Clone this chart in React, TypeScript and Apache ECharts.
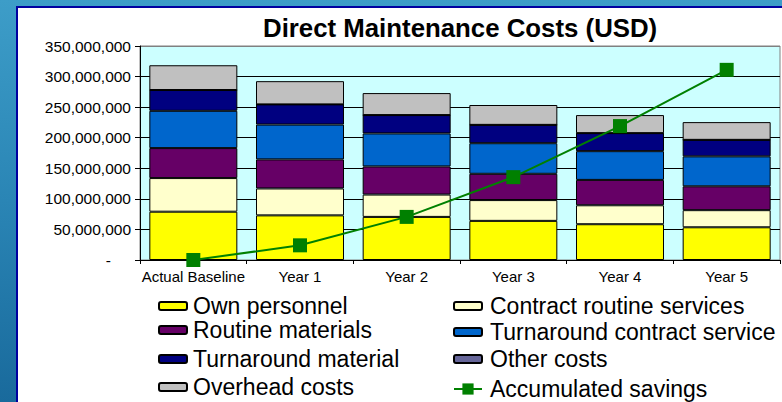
import React, { useEffect, useRef } from "react";
import * as echarts from "echarts";

const categories = ["Actual Baseline", "Year 1", "Year 2", "Year 3", "Year 4", "Year 5"];
const ownPersonnel = [79e6, 73e6, 70.5e6, 64e6, 58.5e6, 53.5e6];
const contractRoutine = [55e6, 44e6, 36.5e6, 34e6, 31e6, 28e6];
const routineMaterials = [49e6, 47.5e6, 46e6, 43e6, 41.5e6, 39e6];
const turnaroundContract = [61e6, 57e6, 54e6, 50e6, 47e6, 49e6];
const turnaroundMaterial = [34e6, 33e6, 30e6, 30e6, 29.5e6, 27e6];
const otherCosts = [0, 0, 0, 0, 0, 0];
const overheadCosts = [40.5e6, 38e6, 36e6, 32.5e6, 29.5e6, 29e6];
const accumulatedSavings = [0, 24e6, 70.5e6, 135.5e6, 219e6, 311e6];

const yMin = 0;
const yMax = 350e6;
const yStep = 50e6;

const FONT = "'Liberation Sans', Arial, Helvetica, sans-serif";

const barSeries = [
  { name: "Own personnel", data: ownPersonnel, color: "#ffff00" },
  { name: "Contract routine services", data: contractRoutine, color: "#ffffcc" },
  { name: "Routine materials", data: routineMaterials, color: "#660066" },
  { name: "Turnaround contract service", data: turnaroundContract, color: "#0066cc" },
  { name: "Turnaround material", data: turnaroundMaterial, color: "#000080" },
  { name: "Other costs", data: otherCosts, color: "#666699" },
  { name: "Overhead costs", data: overheadCosts, color: "#c0c0c0" },
];

const legendLayout = [
  { name: "Own personnel", left: 158, cy: 306, pad: 1 },
  { name: "Contract routine services", left: 453, cy: 306, pad: 3 },
  { name: "Routine materials", left: 158, cy: 330, pad: 1 },
  { name: "Turnaround contract service", left: 453, cy: 332, pad: 3 },
  { name: "Turnaround material", left: 158, cy: 359, pad: 1 },
  { name: "Other costs", left: 453, cy: 359, pad: 3 },
  { name: "Overhead costs", left: 158, cy: 387, pad: 1 },
  { name: "Accumulated savings", left: 453, cy: 389, pad: 3 },
];

export default function App() {
  const ref = useRef<HTMLDivElement>(null);

  useEffect(() => {
    if (!ref.current) return;
    const chart = echarts.init(ref.current, null, { renderer: "svg" });
    const nLines = Math.round((yMax - yMin) / yStep) + 1;
    const splitColors = Array.from({ length: nLines }, (_, i) => (i === nLines - 1 ? "#808080" : "#000000"));

    chart.setOption({
      animation: false,
      backgroundColor: "transparent",
      textStyle: { fontFamily: FONT },
      title: {
        text: "Direct Maintenance Costs (USD)",
        left: 263,
        top: 15,
        padding: 0,
        textStyle: { fontFamily: FONT, fontSize: 25.8, fontWeight: "bold", color: "#000" },
      },
      legend: legendLayout.map((l) => ({
        data: [l.name],
        left: l.left,
        top: l.cy - 12,
        padding: 0,
        orient: "vertical",
        itemWidth: 28,
        itemHeight: l.name === "Accumulated savings" ? 14 : 8,
        selectedMode: false,
        textStyle: {
          fontFamily: FONT,
          fontSize: 23,
          color: "#000",
          lineHeight: 24,
          padding: [0, 0, 0, l.pad],
        },
      })),
      grid: {
        left: 140,
        top: 46,
        right: 2,
        bottom: 142,
        show: true,
        backgroundColor: "#ccffff",
        borderColor: "#808080",
        borderWidth: 1,
      },
      xAxis: {
        type: "category",
        data: categories,
        boundaryGap: true,
        axisLine: { show: true, lineStyle: { color: "#000", width: 1 } },
        axisTick: { show: true, length: 4, lineStyle: { color: "#000" } },
        axisLabel: { fontFamily: FONT, fontSize: 15, color: "#000", margin: 9, interval: 0 },
        splitLine: { show: false },
      },
      yAxis: {
        type: "value",
        min: yMin,
        max: yMax,
        interval: yStep,
        axisLine: { show: true, lineStyle: { color: "#000", width: 1 } },
        axisTick: { show: true, length: 5, lineStyle: { color: "#000" } },
        axisLabel: {
          fontFamily: FONT,
          fontSize: 15.5,
          color: "#000",
          margin: 9,
          formatter: (v: number) => (v === 0 ? "{d|-}" : v.toLocaleString("en-US")),
          rich: { d: { fontFamily: FONT, fontSize: 15.5, color: "#000", padding: [0, 20, 0, 0] } },
        },
        splitLine: { show: true, lineStyle: { color: splitColors, width: 1 } },
      },
      series: [
        ...barSeries.map((s) => ({
          name: s.name,
          type: "bar",
          stack: "total",
          barWidth: "82.5%",
          data: s.data,
          itemStyle: { color: s.color, borderColor: "#000", borderWidth: 1 },
        })),
        {
          name: "Accumulated savings",
          type: "line",
          data: accumulatedSavings,
          symbol: "rect",
          symbolSize: 14,
          z: 10,
          itemStyle: { color: "#008000" },
          lineStyle: { color: "#008000", width: 2 },
        },
      ],
    });
    return () => chart.dispose();
  }, []);

  return (
    <div
      style={{
        position: "absolute",
        left: 0,
        top: 0,
        width: 782,
        height: 402,
        overflow: "hidden",
        background: "linear-gradient(180deg, #3d9dc8 0%, #2a85b5 50%, #196a9c 100%)",
      }}
    >
      <div
        style={{
          position: "absolute",
          left: 16,
          top: 6,
          width: 782 - 18,
          height: 402 - 8,
          borderLeft: "2px solid #0000a0",
          borderTop: "2px solid #0000a0",
          background: "#ffffff",
        }}
      />
      <div ref={ref} style={{ position: "absolute", left: 0, top: 0, width: 782, height: 402 }} />
    </div>
  );
}
